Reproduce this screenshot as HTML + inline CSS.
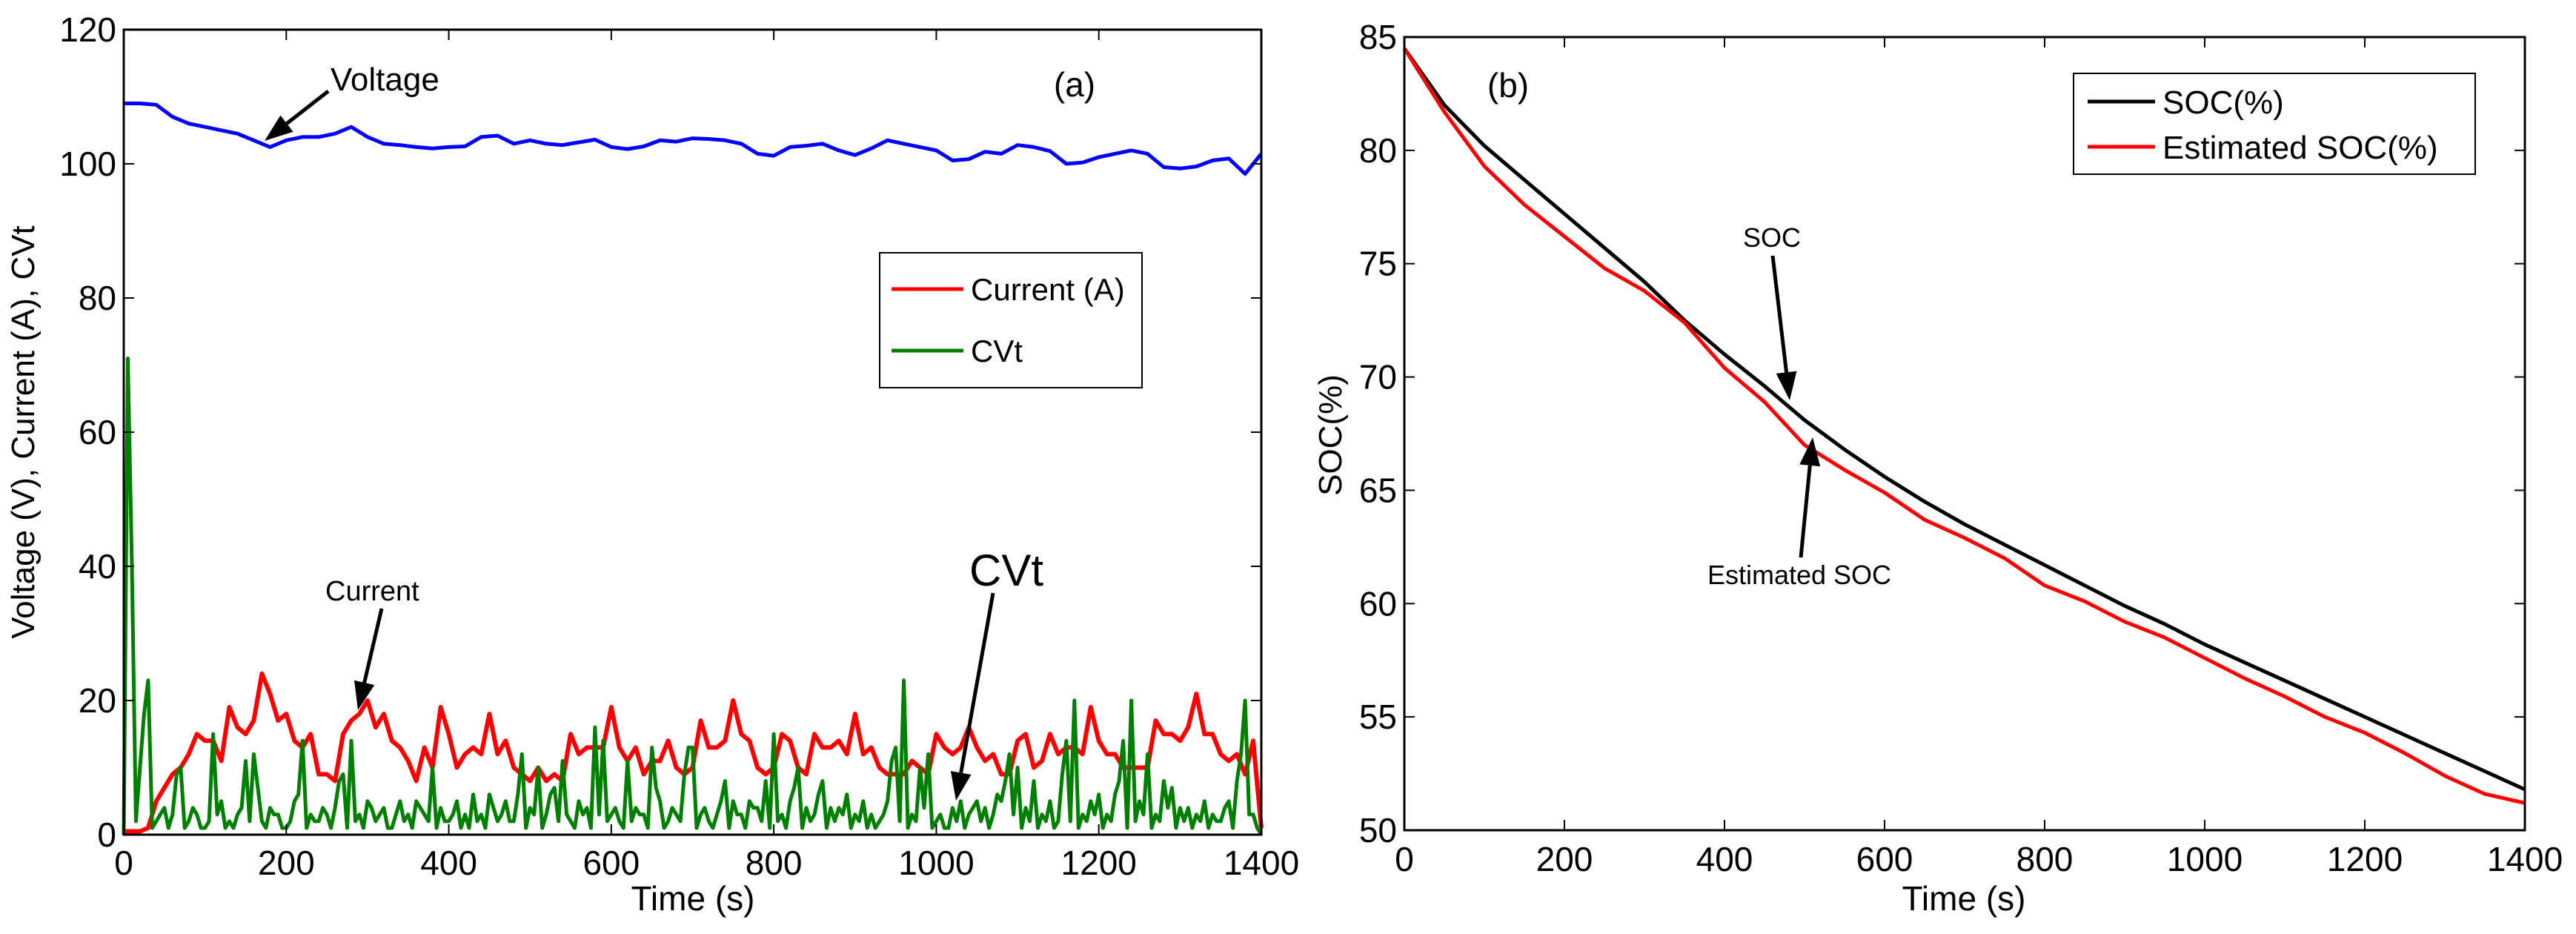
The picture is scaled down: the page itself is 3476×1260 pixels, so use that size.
<!DOCTYPE html>
<html><head><meta charset="utf-8"><style>
html,body{margin:0;padding:0;background:#fff;}
svg{display:block;font-family:"Liberation Sans",sans-serif;}
</style></head><body>
<svg id="chart" width="3476" height="1260" viewBox="0 0 3476 1260" xmlns="http://www.w3.org/2000/svg">
<rect width="3476" height="1260" fill="#fff"/>
<g id="pa"></g>
<g id="pb"></g>
</svg>
<script>
const timeTicks=[0,200,400,600,800,1000,1200,1400];
const aYTicks=[0,20,40,60,80,100,120];
const bYTicks=[50,55,60,65,70,75,80,85];
const voltage=[109,109,108.8,107,106,105.5,105,104.5,103.5,102.5,103.5,104,104,104.5,105.5,104,103,102.8,102.5,102.3,102.5,102.6,104,104.2,103,103.5,103,102.8,103.2,103.6,102.5,102.2,102.6,103.5,103.3,103.8,103.7,103.5,103,101.5,101.2,102.5,102.7,103,102,101.3,102.3,103.5,103,102.5,102,100.5,100.7,101.8,101.5,102.8,102.5,101.9,100,100.2,101,101.5,102,101.5,99.5,99.3,99.6,100.5,100.8,98.5,101.5];
const current=[0.5,0.5,0.5,1,5,7,9,10,12,15,14,14,11,19,16,15,17,24,21,17,18,14,13,15,9,9,8,15,17,18,20,16,18,14,13,11,8,13,10,19,15,10,12,13,12,18,12,14,10,9,8,10,8,9,8,15,12,13,13,13,19,13,11,13,9,11,11,14,10,9,10,17,13,13,14,20,15,14,10,9,10,15,14,10,9,15,13,13,14,12,18,12,13,10,9,9,9,11,10,9,15,13,12,13,16,13,11,12,9,9,14,15,10,11,15,12,13,13,12,19,14,12,12,10,10,10,10,17,15,15,14,16,21,15,15,12,11,12,9,14,1];
const cvt=[0,71,40,2,10,18,23,1,2,3,4,1,3,9,10,1,2,4,3,1,1,2,15,3,5,1,2,1,3,4,11,2,12,7,2,1,4,3,3,1,1,2,5,6,14,1,3,2,2,4,3,1,4,8,9,1,14,2,3,1,5,4,2,3,4,1,1,3,5,2,3,1,5,4,3,2,10,1,4,2,2,3,5,1,3,1,6,2,3,1,6,4,2,3,5,2,2,6,12,1,4,3,10,1,3,6,7,2,11,3,2,1,5,3,4,1,16,3,14,2,3,4,2,1,11,2,4,3,3,1,13,7,5,1,2,4,3,2,9,13,13,1,3,4,2,1,3,5,8,1,5,3,3,1,5,4,4,2,8,1,15,2,3,1,5,7,10,1,4,2,3,6,8,1,4,2,4,3,6,1,3,2,5,1,3,1,2,3,5,11,13,2,23,1,3,2,10,4,12,1,2,3,1,1,4,2,5,1,3,4,5,2,4,1,3,6,5,8,12,3,10,1,4,2,8,1,3,2,5,1,2,9,14,2,20,1,3,2,5,3,6,1,3,2,6,8,14,1,20,2,5,3,12,1,3,2,8,4,7,1,4,2,4,1,3,2,5,1,3,2,2,4,5,1,8,12,20,3,3,1,0];
const soc=[84.5,82,80.2,78.7,77.2,75.7,74.2,72.5,71,69.6,68.1,66.8,65.6,64.5,63.5,62.6,61.7,60.8,59.9,59.1,58.2,57.4,56.6,55.8,55.0,54.2,53.4,52.6,51.8];
const socEst=[84.5,81.7,79.3,77.6,76.2,74.8,73.8,72.4,70.4,68.9,67.0,65.9,64.9,63.7,62.9,62.0,60.8,60.1,59.2,58.5,57.6,56.7,55.9,55.0,54.3,53.4,52.4,51.6,51.2];

const NS="http://www.w3.org/2000/svg";
function mk(parent,tag,attrs,text){const e=document.createElementNS(NS,tag);for(const k in attrs)e.setAttribute(k,attrs[k]);if(text!==undefined)e.textContent=text;parent.appendChild(e);return e;}
function lin(d0,d1,r0,r1){return v=>r0+(v-d0)/(d1-d0)*(r1-r0);}
function seriesPath(g,vals,xs,ys,color,w,name){
  const step=1400/(vals.length-1);
  let d=vals.map((v,i)=>(i?'L':'M')+xs(i*step).toFixed(1)+','+ys(v).toFixed(1)).join('');
  const p=mk(g,'path',{d:d,fill:'none',stroke:color,'stroke-width':w,'stroke-linejoin':'round'});
  
  
}
function axes(g,L,R,T,B,xs,ys,yt,xtY){
  for(const t of timeTicks){const x=xs(t);
    mk(g,'line',{x1:x,y1:B,x2:x,y2:B-14,stroke:'#000','stroke-width':2});
    mk(g,'line',{x1:x,y1:T,x2:x,y2:T+14,stroke:'#000','stroke-width':2});
    const tl=mk(g,'text',{x:x,y:xtY,'font-size':46,'text-anchor':'middle'},String(t));
    
    }
  for(const t of yt){const y=ys(t);
    mk(g,'line',{x1:L,y1:y,x2:L+14,y2:y,stroke:'#000','stroke-width':2});
    mk(g,'line',{x1:R,y1:y,x2:R-14,y2:y,stroke:'#000','stroke-width':2});
    const tl=mk(g,'text',{x:L-10,y:y+16,'font-size':46,'text-anchor':'end'},String(t));
    
    }
  const r=mk(g,'rect',{x:L,y:T,width:R-L,height:B-T,fill:'none',stroke:'#000','stroke-width':3});
  
  
}
function arrow(g,x1,y1,x2,y2,name){
  const a=Math.atan2(y2-y1,x2-x1),L=38,W=14;
  const bx=x2-L*Math.cos(a),by=y2-L*Math.sin(a);
  const g2=mk(g,'g',{});
  
  
  mk(g2,'line',{x1:x1,y1:y1,x2:bx,y2:by,stroke:'#000','stroke-width':5});
  mk(g2,'polygon',{points:`${x2},${y2} ${bx-W*Math.sin(a)},${by+W*Math.cos(a)} ${bx+W*Math.sin(a)},${by-W*Math.cos(a)}`,fill:'#000'});
}
function label(g,x,y,size,txt,name,anchor){
  const t=mk(g,'text',{x:x,y:y,'font-size':size,'text-anchor':anchor||'start'},txt);
  
  
  return t;
}

// Panel A
(function(){
  const g=document.getElementById('pa');
  const L=167,R=1702,T=40,B=1126;
  const xs=lin(0,1400,L,R), ys=lin(0,120,B,T);
  seriesPath(g,voltage,xs,ys,'#0000ff',5,'voltage-line');
  seriesPath(g,current,xs,ys,'#ff0000',6,'current-line');
  seriesPath(g,cvt,xs,ys,'#008000',5,'cvt-line');
  axes(g,L,R,T,B,xs,ys,aYTicks,1180);
  label(g,935,1228,46,'Time (s)','x-axis-title','middle');
  const yt=label(g,0,0,44,'Voltage (V), Current (A), CVt','y-axis-title','middle');
  yt.setAttribute('transform','translate(46,583) rotate(-90)');
  label(g,1450,130,46,'(a)','panel-label-a','middle');
  const lg=mk(g,'g',{});
  
  
  mk(lg,'rect',{x:1187,y:341,width:354,height:182,fill:'#fff',stroke:'#000','stroke-width':2});
  mk(lg,'line',{x1:1203,y1:390,x2:1300,y2:390,stroke:'#ff0000','stroke-width':5});
  label(lg,1310,405,42,'Current (A)','legend-entry-current');
  mk(lg,'line',{x1:1203,y1:473,x2:1300,y2:473,stroke:'#008000','stroke-width':5});
  label(lg,1310,488,42,'CVt','legend-entry-cvt');
  label(g,446,122,44,'Voltage','voltage-annotation');
  arrow(g,443,123,357,190,'voltage-arrow');
  label(g,439,810,38,'Current','current-annotation');
  arrow(g,515,821,483,958,'current-arrow');
  label(g,1308,790,60,'CVt','cvt-annotation');
  arrow(g,1340,800,1290,1080,'cvt-arrow');
})();

// Panel B
(function(){
  const g=document.getElementById('pb');
  const L=1895,R=3407,T=50,B=1120;
  const xs=lin(0,1400,L,R), ys=lin(50,85,B,T);
  seriesPath(g,soc,xs,ys,'#000000',5,'soc-line');
  seriesPath(g,socEst,xs,ys,'#ff0000',5,'estimated-soc-line');
  axes(g,L,R,T,B,xs,ys,bYTicks,1175);
  label(g,2650,1228,46,'Time (s)','x-axis-title-b','middle');
  const yt=label(g,0,0,44,'SOC(%)','y-axis-title-b','middle');
  yt.setAttribute('transform','translate(1810,587) rotate(-90)');
  label(g,2035,131,46,'(b)','panel-label-b','middle');
  const lg=mk(g,'g',{});
  
  
  mk(lg,'rect',{x:2798,y:99,width:542,height:136,fill:'#fff',stroke:'#000','stroke-width':2});
  mk(lg,'line',{x1:2817,y1:137,x2:2908,y2:137,stroke:'#000','stroke-width':5});
  label(lg,2918,153,44,'SOC(%)','legend-entry-soc');
  mk(lg,'line',{x1:2817,y1:198,x2:2908,y2:198,stroke:'#ff0000','stroke-width':5});
  label(lg,2918,214,44,'Estimated SOC(%)','legend-entry-estimated-soc');
  label(g,2391,333,36,'SOC','soc-annotation','middle');
  arrow(g,2392,345,2415,540,'soc-arrow');
  label(g,2428,788,36,'Estimated SOC','estimated-soc-annotation','middle');
  arrow(g,2430,752,2446,590,'estimated-soc-arrow');
})();
</script>
</body></html>
